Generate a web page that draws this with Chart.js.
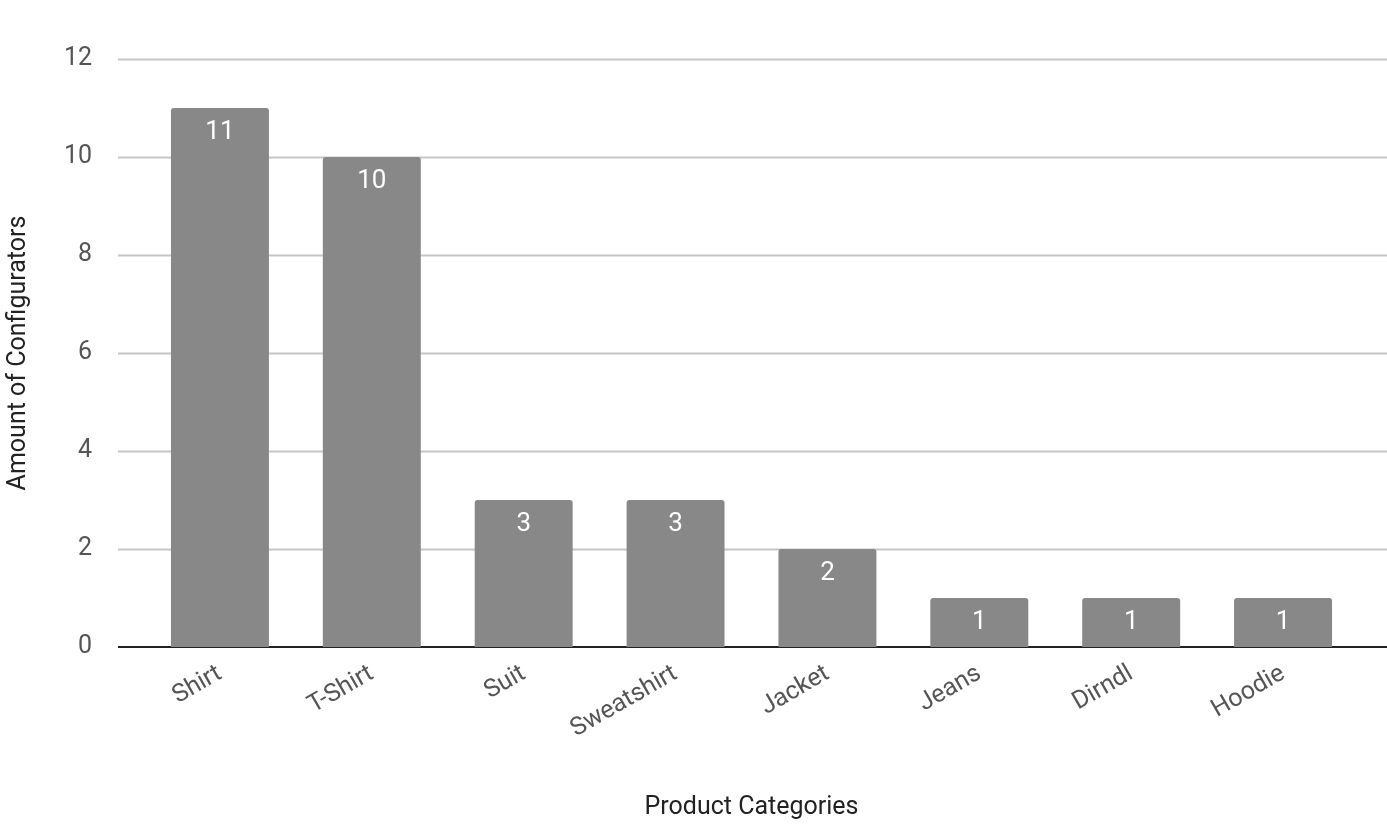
<!DOCTYPE html>
<html><head><script src="https://cdn.jsdelivr.net/npm/chart.js"></script>
<style>body{margin:0}#w{width:1387px;height:835px}</style></head><body><div id="w"><canvas id="c"></canvas></div>
<script>
const categories=["Shirt","T-Shirt","Suit","Sweatshirt","Jacket","Jeans","Dirndl","Hoodie"];
const values=[11,10,3,3,2,1,1,1];
const yTicks=[0,2,4,6,8,10,12];
const F="Roboto";
const plug={id:'p',
beforeDatasetsDraw(ch){const c=ch.ctx,y=ch.scales.y;c.save();c.strokeStyle='#c6c6c6';c.lineWidth=2;
yTicks.forEach(t=>{if(t===0)return;const py=Math.round(y.getPixelForValue(t))+0.5;c.beginPath();c.moveTo(118,py);c.lineTo(1387,py);c.stroke();});
const p0=y.getPixelForValue(0);c.strokeStyle='#222';c.beginPath();c.moveTo(118,p0);c.lineTo(1387,p0);c.stroke();c.restore();},
afterDatasetsDraw(ch){const c=ch.ctx;c.save();c.fillStyle='#fff';c.font='26px '+F;c.textAlign='center';c.textBaseline='top';
ch.getDatasetMeta(0).data.forEach((b,i)=>c.fillText(values[i],b.x,b.y+11));c.restore();}};
new Chart(document.getElementById('c'),{type:'bar',data:{labels:categories,datasets:[{data:values,backgroundColor:'#888888',barPercentage:0.645,categoryPercentage:1,borderRadius:{topLeft:3,topRight:3},borderSkipped:'bottom'}]},
options:{responsive:true,maintainAspectRatio:false,animation:false,layout:{padding:{top:-28,right:28,left:0,bottom:8}},
plugins:{legend:{display:false},tooltip:{enabled:false}},
scales:{y:{min:0,max:12,afterBuildTicks(s){s.ticks=yTicks.map(v=>({value:v}));},afterFit(s){s.width=144;},grid:{display:false},border:{display:false},
ticks:{color:'#555',font:{family:F,size:25},padding:44},
title:{display:true,text:'Amount of Configurators',color:'#222',font:{family:F,size:25},padding:{bottom:4}}},
x:{afterFit(s){s.height=180;},grid:{display:false},border:{display:false},ticks:{color:'#555',font:{family:F,size:25},maxRotation:30,minRotation:30,padding:4},
title:{display:true,text:'Product Categories',color:'#222',font:{family:F,size:25},padding:{top:20}}}}},plugins:[plug]});
</script></body></html>
